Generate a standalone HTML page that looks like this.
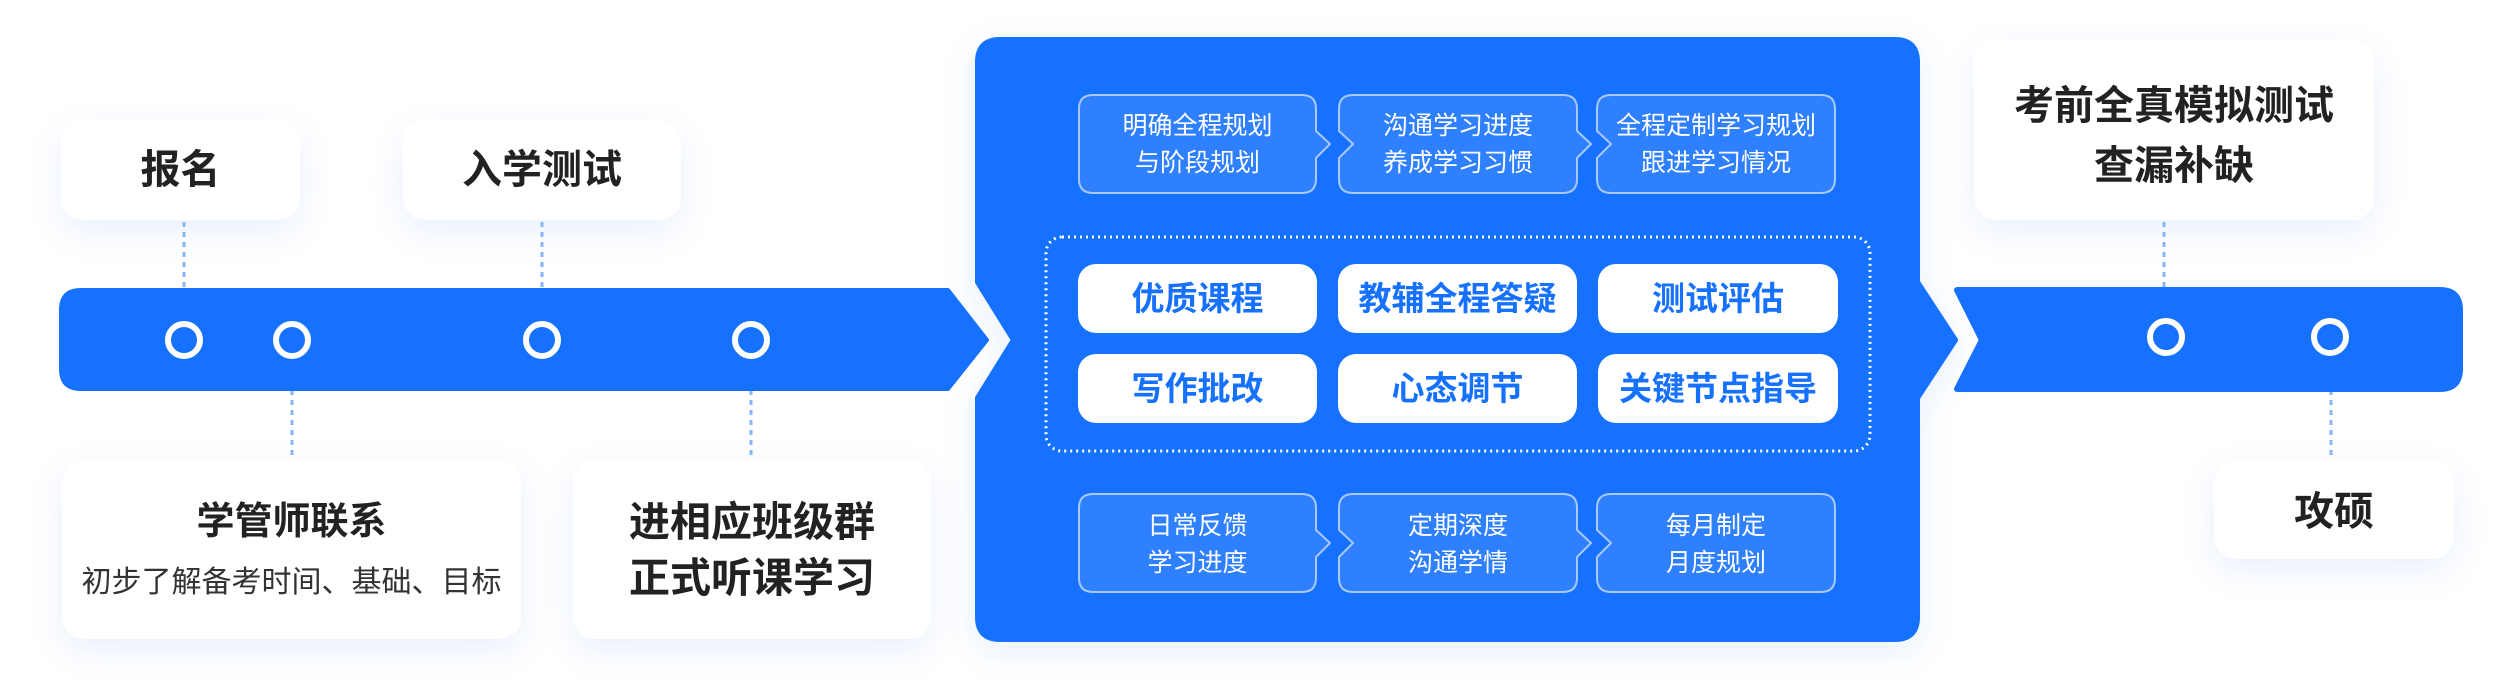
<!DOCTYPE html>
<html><head><meta charset="utf-8"><style>
body{margin:0;width:2494px;height:700px;background:#fff;position:relative;overflow:hidden;font-family:"Liberation Sans","Noto Sans CJK SC",sans-serif;}
.card{position:absolute;background:#fff;border-radius:22px;box-shadow:0 12px 36px rgba(40,110,230,0.10);}
.t{position:absolute;text-align:center;white-space:nowrap;}
.b{font-weight:bold;color:#222;}
.btn{position:absolute;background:#fff;border-radius:18px;color:#1672fe;font-weight:bold;font-size:33px;text-align:center;line-height:69px;height:69px;}
.sm{position:absolute;color:#fff;font-size:25px;text-align:center;line-height:37px;}
</style></head><body>
<div class="card" style="left:61px;top:120px;width:239px;height:100px;"></div>
<div class="card" style="left:403px;top:120px;width:278px;height:100px;"></div>
<div class="card" style="left:62px;top:460px;width:459px;height:179px;"></div>
<div class="card" style="left:573px;top:460px;width:358px;height:179px;"></div>
<div class="card" style="left:1974px;top:40px;width:400px;height:180px;"></div>
<div class="card" style="left:2214px;top:460px;width:240px;height:99px;"></div>

<svg width="2494" height="700" style="position:absolute;left:0;top:0">
<defs><filter id="sh" x="-10%" y="-10%" width="120%" height="130%"><feDropShadow dx="0" dy="10" stdDeviation="16" flood-color="#2f6fe0" flood-opacity="0.10"/></filter></defs>
<g stroke="#8ab4f8" stroke-width="3" stroke-dasharray="5 5">
<line x1="184" y1="222" x2="184" y2="290"/>
<line x1="542" y1="222" x2="542" y2="290"/>
<line x1="292" y1="390" x2="292" y2="458"/>
<line x1="751" y1="390" x2="751" y2="458"/>
<line x1="2164" y1="222" x2="2164" y2="290"/>
<line x1="2331" y1="390" x2="2331" y2="458"/>
</g>
<path d="M81 290 H948 L987 340 L948 389 H81 Q61 389 61 369 V310 Q61 290 81 290 Z" fill="#1672fe" stroke="#1672fe" stroke-width="4" stroke-linejoin="round"/>
<path d="M1000 40 H1895 Q1917 40 1917 62 V282 L1955 340 L1917 398 V617 Q1917 639 1895 639 H1000 Q978 639 978 617 V398 L1014 340 L978 282 V62 Q978 40 1000 40 Z" fill="#1672fe" stroke="#1672fe" stroke-width="6" stroke-linejoin="round" filter="url(#sh)"/>
<path d="M1957 290 H2440 Q2460 290 2460 310 V369 Q2460 389 2440 389 H1957 L1982 340 Z" fill="#1672fe" stroke="#1672fe" stroke-width="6" stroke-linejoin="round"/>
<g fill="#1672fe" stroke="#fff" stroke-width="6">
<circle cx="184" cy="340" r="16"/><circle cx="292" cy="340" r="16"/><circle cx="542" cy="340" r="16"/><circle cx="751" cy="340" r="16"/>
<circle cx="2166" cy="337" r="16"/><circle cx="2330" cy="337" r="16"/>
</g>
<g fill="#2f80ff" stroke="#a8c8ff" stroke-width="2" stroke-linejoin="round">
<path d="M1093 95 H1302 Q1316 95 1316 109 V131 L1330 144 L1316 158 V179 Q1316 193 1302 193 H1093 Q1079 193 1079 179 V109 Q1079 95 1093 95 Z"/>
<path d="M1353 95 H1563 Q1577 95 1577 109 V131 L1591 144 L1577 158 V179 Q1577 193 1563 193 H1353 Q1339 193 1339 179 V158 L1353 144 L1339 131 V109 Q1339 95 1353 95 Z"/>
<path d="M1611 95 H1821 Q1835 95 1835 109 V179 Q1835 193 1821 193 H1611 Q1597 193 1597 179 V158 L1611 144 L1597 131 V109 Q1597 95 1611 95 Z"/>
<path d="M1093 494 H1302 Q1316 494 1316 508 V530 L1330 543 L1316 557 V578 Q1316 592 1302 592 H1093 Q1079 592 1079 578 V508 Q1079 494 1093 494 Z"/>
<path d="M1353 494 H1563 Q1577 494 1577 508 V530 L1591 543 L1577 557 V578 Q1577 592 1563 592 H1353 Q1339 592 1339 578 V557 L1353 543 L1339 530 V508 Q1339 494 1353 494 Z"/>
<path d="M1611 494 H1821 Q1835 494 1835 508 V578 Q1835 592 1821 592 H1611 Q1597 592 1597 578 V557 L1611 543 L1597 530 V508 Q1597 494 1611 494 Z"/>
</g>
<rect x="1046" y="237" width="824" height="214" rx="16" fill="none" stroke="#fff" stroke-width="3" stroke-dasharray="2 4"/>
</svg>

<div class="t b" style="left:61px;top:146px;width:239px;font-size:40px;line-height:48px;">报名</div>
<div class="t b" style="left:403px;top:146px;width:278px;font-size:40px;line-height:48px;">入学测试</div>
<div class="t b" style="left:62px;top:498px;width:459px;font-size:38px;line-height:48px;">学管师联系</div>
<div class="t" style="left:62px;top:564px;width:459px;font-size:30px;line-height:38px;color:#333;">初步了解备考时间、基础、目标</div>
<div class="t b" style="left:573px;top:494px;width:358px;font-size:41px;line-height:56px;">进相应班级群<br>正式听课学习</div>
<div class="t b" style="left:1974px;top:76px;width:400px;font-size:40px;line-height:60px;">考前全真模拟测试<br>查漏补缺</div>
<div class="t b" style="left:2214px;top:488px;width:240px;font-size:40px;line-height:48px;">攻硕</div>

<div class="sm" style="left:1079px;top:108px;width:237px;">明确全程规划<br>与阶段规划</div>
<div class="sm" style="left:1339px;top:108px;width:238px;">沟通学习进度<br>养成学习习惯</div>
<div class="sm" style="left:1597px;top:108px;width:238px;">全程定制学习规划<br>跟进学习情况</div>
<div class="sm" style="left:1079px;top:508px;width:237px;">日常反馈<br>学习进度</div>
<div class="sm" style="left:1339px;top:508px;width:238px;">定期深度<br>沟通学情</div>
<div class="sm" style="left:1597px;top:508px;width:238px;">每月制定<br>月度规划</div>

<div class="btn" style="left:1078px;top:264px;width:239px;">优质课程</div>
<div class="btn" style="left:1338px;top:264px;width:239px;">教辅全程答疑</div>
<div class="btn" style="left:1598px;top:264px;width:240px;">测试评估</div>
<div class="btn" style="left:1078px;top:354px;width:239px;">写作批改</div>
<div class="btn" style="left:1338px;top:354px;width:239px;">心态调节</div>
<div class="btn" style="left:1598px;top:354px;width:240px;">关键节点指导</div>
</body></html>
